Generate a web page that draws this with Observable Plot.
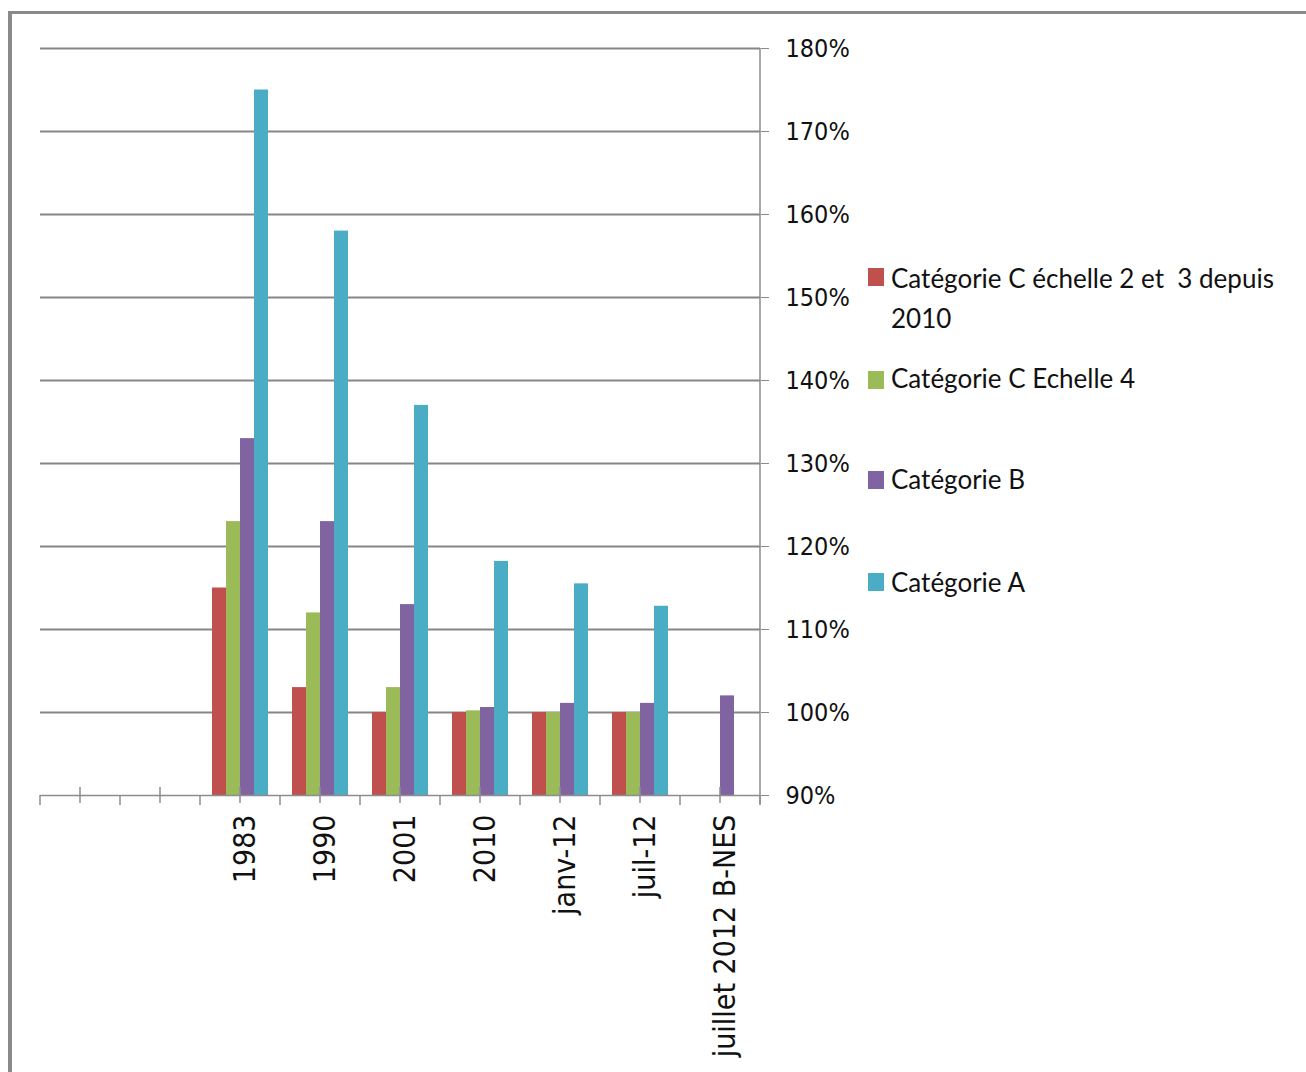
<!DOCTYPE html>
<html>
<head>
<meta charset="utf-8">
<script src="https://cdn.jsdelivr.net/npm/d3@7"></script>
<script src="https://cdn.jsdelivr.net/npm/@observablehq/plot@0.6"></script>
<style>
  html, body { margin: 0; padding: 0; background: #fff; width: 1306px; height: 1072px; overflow: hidden; }
  #border { position: absolute; left: 8px; top: 11px; width: 1400px; height: 1200px;
            border-left: 4px solid #8a8a8a; border-top: 3px solid #8a8a8a; }
  #chart { position: absolute; left: 0; top: 0; }
  #chart svg { overflow: visible; }
  g[aria-label="y-axis tick label"] { font-family: "DejaVu Sans Condensed", "DejaVu Sans", sans-serif; font-stretch: condensed; font-size: 25px; fill: #111; }
  g[aria-label="fx-axis tick label"] { font-family: "DejaVu Sans Condensed", "DejaVu Sans", sans-serif; font-stretch: condensed; font-size: 30px; fill: #111; }
  #legend { position: absolute; left: 0; top: 0; font-family: Lato, "Open Sans", sans-serif; font-size: 26px; color: #111; }
  .item { position: absolute; left: 891px; line-height: 40px; white-space: pre; }
  .sw { position: absolute; left: 868px; width: 16px; height: 18px; }
</style>
</head>
<body>
<div id="border"></div>
<div id="chart"></div>
<div id="legend"></div>
<script>
// ---- data ----
const categories = ["vide1", "vide2", "1983", "1990", "2001", "2010", "janv-12", "juil-12", "juillet 2012 B-NES"];
const series = ["Catégorie C échelle 2 et  3 depuis 2010", "Catégorie C Echelle 4", "Catégorie B", "Catégorie A"];
const legendLines = [["Catégorie C échelle 2 et  3 depuis", "2010"], ["Catégorie C Echelle 4"], ["Catégorie B"], ["Catégorie A"]];
const colors = ["#C0504D", "#9BBB59", "#8064A2", "#4BACC6"];
const valuesC23 = [null, null, 115, 103, 100, 100, 100, 100, null];
const valuesC4  = [null, null, 123, 112, 103, 100.2, 100, 100, null];
const valuesB   = [null, null, 133, 123, 113, 100.6, 101.1, 101.1, 102];
const valuesA   = [null, null, 175, 158, 137, 118.2, 115.5, 112.8, null];
const yTicks = [90, 100, 110, 120, 130, 140, 150, 160, 170, 180];
const gridValues = [100, 110, 120, 130, 140, 150, 160, 170, 180];

const seriesValues = [valuesC23, valuesC4, valuesB, valuesA];
const rows = [];
series.forEach((s, i) => {
  categories.forEach((c, j) => {
    const v = seriesValues[i][j];
    if (v != null) rows.push({cat: c, series: s, value: v});
  });
});
// gridlines repeated in every category band (keeps empty bands drawn)
const gridRows = categories.flatMap(c => gridValues.map(v => ({cat: c, v})));
const baseRows = categories.map(c => ({cat: c, v: yTicks[0]}));
const catLabel = d => d.startsWith("vide") ? "" : d;

const chart = Plot.plot({
  width: 1306,
  height: 1072,
  marginLeft: 40,
  marginRight: 546,
  marginTop: 48,
  marginBottom: 277,
  style: {background: "transparent", overflow: "visible"},
  fx: {domain: categories, padding: 0, axis: null, label: null},
  x: {domain: series, paddingInner: 0, paddingOuter: 0.8, axis: null},
  y: {domain: [90, 180], axis: null},
  color: {domain: series, range: colors},
  marks: [
    Plot.ruleY(gridRows, {fx: "cat", y: "v", stroke: "#868686", strokeWidth: 2}),
    Plot.barY(rows, {fx: "cat", x: "series", y1: 90, y2: "value", fill: "series"}),
    Plot.ruleY(baseRows, {fx: "cat", y: "v", stroke: "#8c8c8c", strokeWidth: 1.5}),
    Plot.axisY({anchor: "right", ticks: yTicks, tickSize: 8, tickPadding: 17, tickFormat: d => d + "%", stroke: "#8c8c8c", label: null}),
    Plot.axisFx({anchor: "bottom", tickSize: 0, tickPadding: 19, tickRotate: -90, tickFormat: catLabel, label: null, dx: 5})
  ]
});
document.getElementById("chart").appendChild(chart);

// category-axis ticks (boundaries and centres) and value-axis line, from the scales
const fx = chart.scale("fx");
const ys = chart.scale("y");
const y0 = ys.apply(90);
const yTop = ys.apply(180);
const bw = fx.bandwidth;
const tg = d3.select(chart).append("g").attr("stroke", "#8c8c8c").attr("stroke-width", 1.5);
categories.forEach((c, i) => {
  const x0 = fx.apply(c);
  tg.append("line").attr("x1", x0).attr("x2", x0).attr("y1", y0).attr("y2", y0 + 10);
  tg.append("line").attr("x1", x0 + bw / 2).attr("x2", x0 + bw / 2).attr("y1", y0 - 8).attr("y2", y0 + 8);
  if (i === categories.length - 1) {
    tg.append("line").attr("x1", x0 + bw).attr("x2", x0 + bw).attr("y1", y0).attr("y2", y0 + 10);
    tg.append("line").attr("x1", x0 + bw).attr("x2", x0 + bw).attr("y1", yTop).attr("y2", y0 + 9);
  }
});

// legend
const legend = document.getElementById("legend");
const itemTops = [258, 358, 459, 562];
const swatchTops = [268, 371, 471, 573];
legendLines.forEach((lines, i) => {
  const sw = document.createElement("div");
  sw.className = "sw";
  sw.style.top = swatchTops[i] + "px";
  sw.style.background = colors[i];
  legend.appendChild(sw);
  const t = document.createElement("div");
  t.className = "item";
  t.style.top = itemTops[i] + "px";
  t.textContent = lines.join("\n");
  legend.appendChild(t);
});
</script>
</body>
</html>
